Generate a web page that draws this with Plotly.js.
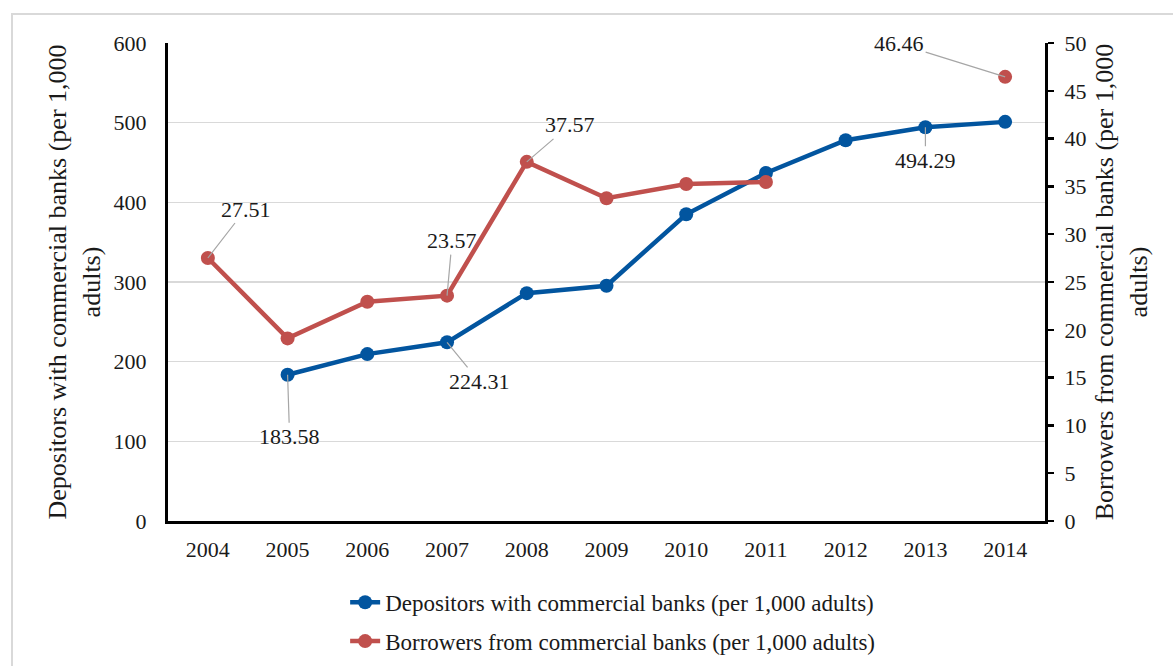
<!DOCTYPE html>
<html>
<head>
<meta charset="utf-8">
<script src="https://cdn.plot.ly/plotly-3.0.1.min.js"></script>
<style>
html,body{margin:0;padding:0;background:#fff;}
#chart{width:1173px;height:666px;}
</style>
</head>
<body>
<div id="chart"></div>
<script>
const years = ['2004','2005','2006','2007','2008','2009','2010','2011','2012','2013','2014'];
const depositors = [null, 183.58, 209.5, 224.31, 286, 295.3, 385, 436.8, 478, 494.29, 501];
const borrowers = [27.51, 19.1, 22.94, 23.57, 37.57, 33.76, 35.25, 35.46, null, null, 46.46];
const depName = 'Depositors with commercial banks (per 1,000 adults)';
const borName = 'Borrowers from commercial banks (per 1,000 adults)';
const leftTitle = 'Depositors with commercial banks (per 1,000<br>adults)';
const rightTitle = 'Borrowers from commercial banks (per 1,000<br>adults)';

const FONT = 'Liberation Serif, Times New Roman, serif';
const TXT = '#1a1a1a';
const BLUE = '#02559f';
const RED = '#c0504d';

const traces = [
  {x: years, y: depositors, name: depName, type: 'scatter', mode: 'lines+markers',
   line: {color: BLUE, width: 4.5}, marker: {color: BLUE, size: 14},
   legendgroup: 'a', connectgaps: false, yaxis: 'y'},
  {x: years, y: borrowers, name: borName, type: 'scatter', mode: 'lines+markers',
   line: {color: RED, width: 4.5}, marker: {color: RED, size: 14},
   legendgroup: 'b', connectgaps: false, yaxis: 'y2'}
];

function lab(xi, val, ref, ax, ay) {
  return {x: xi, y: val, xref: 'x', yref: ref, text: String(val.toFixed(2)),
    showarrow: true, arrowhead: 0, arrowwidth: 1.2, arrowcolor: '#a6a6a6',
    ax: ax, ay: ay,
    font: {family: FONT, size: 22, color: TXT}};
}

const annotations = [
  lab(0, borrowers[0], 'y2', 38, -49),
  lab(1, depositors[1], 'y', 2, 62),
  lab(3, depositors[3], 'y', 32, 39),
  lab(3, borrowers[3], 'y2', 5, -55),
  lab(4, borrowers[4], 'y2', 43, -37),
  lab(9, depositors[9], 'y', 0, 33),
  lab(10, borrowers[10], 'y2', -106, -33)
];

const layout = {
  width: 1173, height: 666,
  margin: {l: 168, r: 128, t: 43, b: 145},
  paper_bgcolor: '#ffffff', plot_bgcolor: '#ffffff',
  font: {family: FONT, size: 22, color: TXT},
  showlegend: true,
  legend: {orientation: 'v', x: 0.507, xanchor: 'center', yref: 'container', y: 0.128, yanchor: 'top',
    font: {family: FONT, size: 23, color: TXT}, tracegroupgap: 6,
    bgcolor: 'rgba(0,0,0,0)'},
  xaxis: {type: 'category', range: [-0.5, 10.5], showgrid: false, zeroline: false,
    showline: true, linecolor: '#000', linewidth: 3, ticks: '',
    ticklabelstandoff: 7, tickfont: {family: FONT, size: 22, color: TXT}, automargin: false},
  yaxis: {range: [0, 600], dtick: 100, showgrid: true, gridcolor: '#d9d9d9', gridwidth: 1.5,
    zeroline: false, showline: true, linecolor: '#000', linewidth: 3, ticks: '',
    ticklabelstandoff: 14, tickfont: {family: FONT, size: 22, color: TXT}, automargin: false,
    title: {text: leftTitle, font: {family: FONT, size: 26, color: TXT}, standoff: 6}},
  yaxis2: {range: [0, 50], dtick: 5, overlaying: 'y', side: 'right', showgrid: false,
    zeroline: false, showline: true, linecolor: '#000', linewidth: 3, automargin: false,
    ticks: 'outside', ticklen: 6, tickwidth: 2.5, tickcolor: '#000',
    ticklabelstandoff: 6, tickfont: {family: FONT, size: 22, color: TXT},
    title: {text: rightTitle, font: {family: FONT, size: 26, color: TXT}, standoff: 10}},
  annotations: annotations,
  shapes: [{type: 'rect', xref: 'paper', yref: 'paper', x0: -0.1779, y0: -0.5, x1: 1.3, y1: 1.0607,
    line: {color: '#d9d9d9', width: 2}, fillcolor: 'rgba(0,0,0,0)', layer: 'below'}]
};

Plotly.newPlot('chart', traces, layout, {displayModeBar: false, staticPlot: true});
</script>
</body>
</html>
